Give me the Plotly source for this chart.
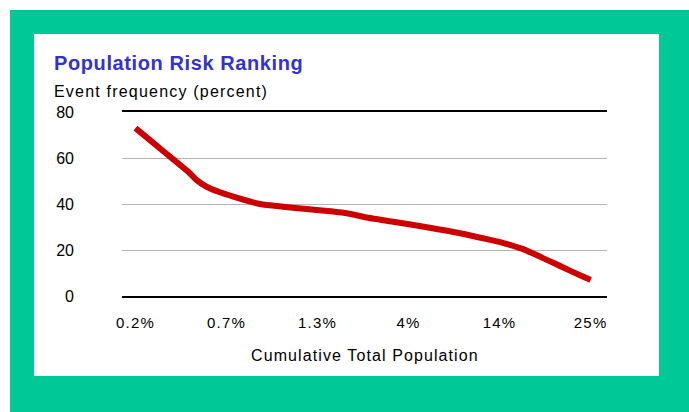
import plotly.graph_objects as go

# Cumulative population groups shown on the x axis
population_labels = ["0.2%", "0.7%", "1.3%", "4%", "14%", "25%"]

# Curve samples: position along the ranked groups (0 = first label) and event frequency
rank_position = [0.0, 0.196, 0.415, 0.58, 0.673, 0.782, 0.929, 1.075, 1.24, 1.368,
                 1.624, 1.881, 2.174, 2.321, 2.44, 2.558, 2.833, 3.2, 3.566, 3.877,
                 4.016, 4.236, 4.456, 4.676, 4.896, 5.0]
event_frequency = [73.0, 66.6, 59.4, 54.0, 50.4, 47.5, 45.1, 43.2, 41.3, 40.0,
                   38.8, 37.8, 36.7, 36.0, 35.0, 34.0, 32.3, 29.9, 27.3, 24.6,
                   23.3, 20.7, 16.9, 12.8, 8.8, 7.0]

y_ticks = [0, 20, 40, 60, 80]

FONT = "Liberation Sans, Arial, sans-serif"
GREEN = "#00C896"


def spaced(text, px):
    return f'<span style="letter-spacing:{px}px">{text}</span>'


fig = go.Figure()
fig.add_trace(go.Scatter(
    x=rank_position,
    y=event_frequency,
    mode="lines",
    line=dict(color="#CC0000", width=6, shape="spline", smoothing=0.8),
    hoverinfo="skip",
    showlegend=False,
))

W, H = 689, 412
L, R, T, B = 122, 82, 112, 116
pw, ph = W - L - R, H - T - B


def px_x(p):
    return (p - L) / pw


def px_y(p):
    return (H - B - p) / ph


fig.update_layout(
    width=W,
    height=H,
    margin=dict(l=L, r=R, t=T, b=B, pad=0),
    paper_bgcolor="white",
    plot_bgcolor="white",
    font=dict(family=FONT, color="black"),
    xaxis=dict(
        range=[-0.148, 5.18],
        tickvals=list(range(len(population_labels))),
        ticktext=[spaced(t, 1.2) for t in population_labels],
        tickfont=dict(size=15, color="black", family=FONT),
        showgrid=False,
        zeroline=False,
        showline=True,
        mirror=True,
        linecolor="black",
        linewidth=2,
        ticks="",
        ticklabelstandoff=12,
        fixedrange=True,
    ),
    yaxis=dict(
        range=[0, 80],
        tickvals=y_ticks,
        tickfont=dict(size=16, color="black", family=FONT),
        showgrid=True,
        gridcolor="#B4B4B4",
        gridwidth=1,
        zeroline=False,
        showline=False,
        ticks="",
        ticklabelstandoff=47,
        fixedrange=True,
    ),
    shapes=[
        # green frame
        dict(type="rect", xref="paper", yref="paper", layer="below",
             x0=px_x(10), x1=px_x(689), y0=px_y(412), y1=px_y(10),
             fillcolor=GREEN, line=dict(width=0)),
        # white panel
        dict(type="rect", xref="paper", yref="paper", layer="below",
             x0=px_x(34), x1=px_x(659), y0=px_y(376), y1=px_y(34),
             fillcolor="white", line=dict(width=0)),
    ],
    annotations=[
        dict(text="<b>" + spaced("Population Risk Ranking", 0.6) + "</b>",
             xref="paper", yref="paper", x=px_x(52), y=px_y(62.6),
             xanchor="left", yanchor="middle", showarrow=False,
             font=dict(size=20, color="#3333CC", family=FONT)),
        dict(text=spaced("Event frequency (percent)", 1.2),
             xref="paper", yref="paper", x=px_x(52), y=px_y(91.4),
             xanchor="left", yanchor="middle", showarrow=False,
             font=dict(size=16, color="black", family=FONT)),
        dict(text=spaced("Cumulative Total Population", 1.1),
             xref="paper", yref="paper", x=0.5, y=px_y(355),
             xanchor="center", yanchor="middle", showarrow=False,
             font=dict(size=16, color="black", family=FONT)),
    ],
)

fig.write_html("out.html", config=dict(displayModeBar=False))
